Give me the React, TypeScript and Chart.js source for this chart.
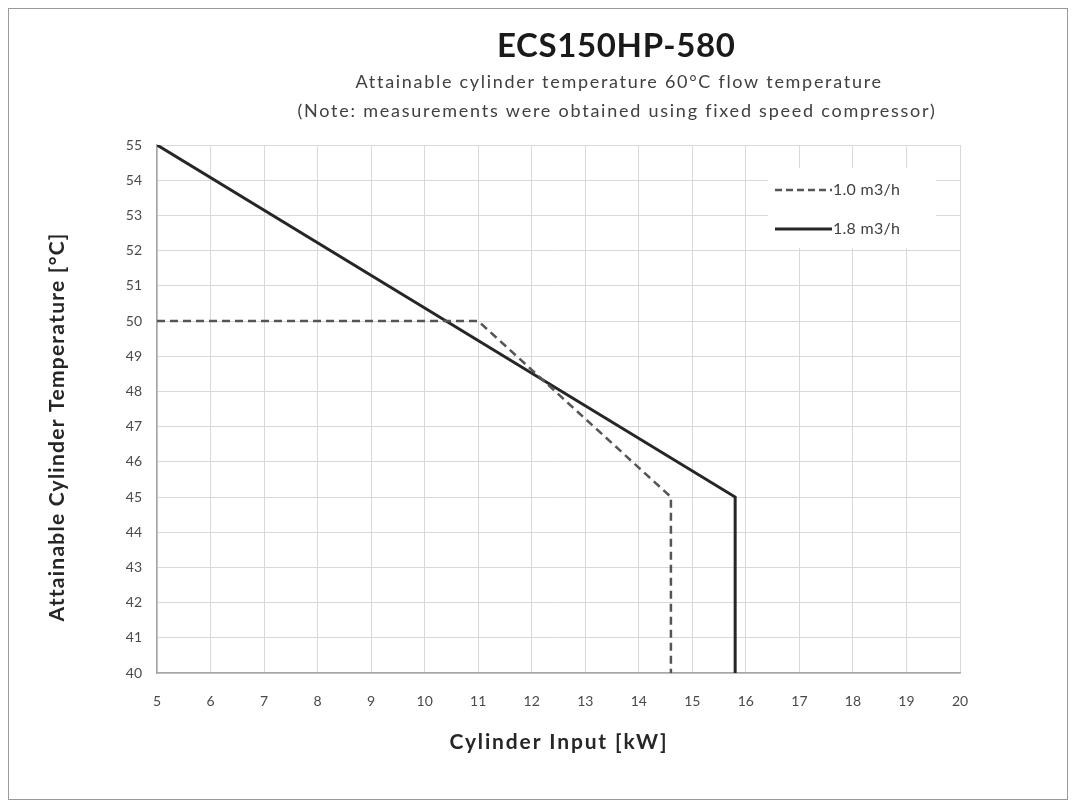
import React, { useEffect, useRef } from "react";
import { Chart, registerables } from "chart.js";

Chart.register(...registerables);

const chartTitle = "ECS150HP-580";
const subtitleLines = [
  "Attainable cylinder temperature 60°C flow temperature",
  "(Note: measurements were obtained using fixed speed compressor)",
];
const xAxisTitle = "Cylinder Input [kW]";
const yAxisTitle = "Attainable Cylinder Temperature [°C]";

const seriesNames = ["1.0 m3/h", "1.8 m3/h"];
const flow10X = [5, 11, 14.6, 14.6];
const flow10Y = [50, 50, 45, 40];
const flow18X = [5, 15.8, 15.8];
const flow18Y = [55, 45, 40];

const xMin = 5, xMax = 20, yMin = 40, yMax = 55;

const FONT = "Lato, 'Open Sans', sans-serif";

function drawFitted(ctx: any, text: string, x: number, y: number, target: number, font: string, color: string, align: string = "center") {
  ctx.save();
  ctx.font = font;
  ctx.fillStyle = color;
  ctx.textBaseline = "middle";
  ctx.letterSpacing = "0px";
  const w0 = ctx.measureText(text).width;
  const ls = (target - w0) / Math.max(1, text.length - 1);
  ctx.letterSpacing = `${ls}px`;
  ctx.textAlign = "left";
  const startX = align === "center" ? x - target / 2 : x;
  ctx.fillText(text, startX, y);
  ctx.restore();
}

const decorPlugin = {
  id: "decor",
  beforeDraw(chart: any) {
    const { ctx, width, height } = chart;
    ctx.save();
    ctx.fillStyle = "#ffffff";
    ctx.fillRect(0, 0, width, height);
    ctx.restore();
  },
  afterDraw(chart: any) {
    const { ctx, width, height } = chart;
    ctx.save();
    ctx.strokeStyle = "#9a9a9a";
    ctx.lineWidth = 1;
    ctx.strokeRect(0.5, 0.5, width - 1, height - 1);
    ctx.restore();

    drawFitted(ctx, chartTitle, 608, 38, 238, `bold 33px ${FONT}`, "#1a1a1a");
    drawFitted(ctx, subtitleLines[0], 610, 74, 525, `18px ${FONT}`, "#404040");
    drawFitted(ctx, subtitleLines[1], 608, 103, 637, `18px ${FONT}`, "#404040");

    drawFitted(ctx, xAxisTitle, 550, 734, 217, `bold 21px ${FONT}`, "#262626");
    ctx.save();
    ctx.translate(49, 420);
    ctx.rotate(-Math.PI / 2);
    drawFitted(ctx, yAxisTitle, 0, 0, 387, `bold 21px ${FONT}`, "#262626");
    ctx.restore();

    ctx.save();
    ctx.fillStyle = "#ffffff";
    ctx.fillRect(760, 160, 168, 80);
    const items = [
      { y: 182, dash: [7, 4], color: "#555555", w: 2.5 },
      { y: 221, dash: [], color: "#262626", w: 3 },
    ];
    items.forEach((it, i) => {
      ctx.beginPath();
      ctx.setLineDash(it.dash);
      ctx.strokeStyle = it.color;
      ctx.lineWidth = it.w;
      ctx.moveTo(767, it.y);
      ctx.lineTo(824, it.y);
      ctx.stroke();
      ctx.setLineDash([]);
      drawFitted(ctx, seriesNames[i], 825, it.y, 67, `16px ${FONT}`, "#404040", "left");
    });
    ctx.restore();
  },
};

export default function App() {
  const ref = useRef<HTMLCanvasElement | null>(null);
  useEffect(() => {
    if (!ref.current) return;
    const chart = new Chart(ref.current, {
      type: "scatter",
      data: {
        datasets: [
          {
            label: seriesNames[0],
            data: flow10X.map((x, i) => ({ x, y: flow10Y[i] })),
            showLine: true,
            borderColor: "#555555",
            borderWidth: 2.5,
            borderDash: [8, 5],
            pointRadius: 0,
            fill: false,
          },
          {
            label: seriesNames[1],
            data: flow18X.map((x, i) => ({ x, y: flow18Y[i] })),
            showLine: true,
            borderColor: "#262626",
            borderWidth: 3,
            pointRadius: 0,
            fill: false,
          },
        ],
      },
      options: {
        responsive: false,
        animation: false,
        layout: { padding: { left: 38, right: 108, top: 137, bottom: 48 } },
        plugins: { legend: { display: false }, tooltip: { enabled: false }, title: { display: false } },
        scales: {
          x: {
            type: "linear",
            min: xMin,
            max: xMax,
            ticks: { stepSize: 1, padding: 20, color: "#4a4a4a", font: { family: FONT, size: 14 } },
            grid: { color: "#d9d9d9", drawTicks: false },
            border: { color: "#a6a6a6", width: 1.5 },
            title: { display: false },
            afterFit: (s: any) => { s.height = 79; },
          },
          y: {
            type: "linear",
            min: yMin,
            max: yMax,
            ticks: { stepSize: 1, padding: 15, color: "#4a4a4a", font: { family: FONT, size: 14 } },
            grid: { color: "#d9d9d9", drawTicks: false },
            border: { color: "#a6a6a6", width: 1.5 },
            title: { display: false },
            afterFit: (s: any) => { s.width = 111; },
          },
        },
      },
      plugins: [decorPlugin],
    });
    return () => chart.destroy();
  }, []);
  return (
    <div style={{ width: 1060, height: 792 }}>
      <canvas ref={ref} width={1060} height={792} style={{ display: "block" }} />
    </div>
  );
}
